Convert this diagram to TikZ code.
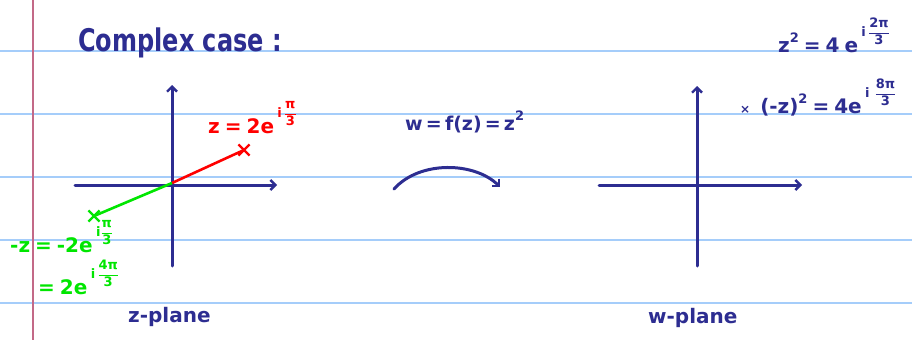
\documentclass[tikz,border=0pt]{standalone}
\usepackage{fontspec}
\setmainfont{DejaVu Sans}
\usepackage{amsmath}
\usetikzlibrary{arrows.meta,shapes.misc}
\definecolor{ink}{RGB}{45,45,145}
\definecolor{rulec}{RGB}{165,205,250}
\definecolor{marginc}{RGB}{195,105,135}
\definecolor{gpen}{RGB}{0,230,0}
\newcommand\myfr[2]{$\dfrac{\text{#1}}{\text{#2}}$}
\newcommand\myex[1]{\raisebox{16pt}{\fontsize{13}{13}\selectfont #1}}
\newcommand\mysq{\raisebox{10pt}{\fontsize{13}{13}\selectfont 2}}
\newcommand\gap{\hspace{5pt}}
\begin{document}
\begin{tikzpicture}[x=1pt,y=-1pt,
  ax/.style={ink,line width=3pt,line cap=round},
  arr/.style={-{Straight Barb[length=5pt,width=10pt,line width=2.4pt]}},
  lbl/.style={anchor=base west,inner sep=0pt,font=\fontsize{20}{24}\selectfont\bfseries},
  xmark/.style={cross out,draw,minimum size=9pt,line width=2.2pt,inner sep=0pt}]
\useasboundingbox (0,0) rectangle (912,340);
\fill[white] (0,0) rectangle (912,340);
\foreach \y in {51,114,177,240,303} \draw[rulec,line width=1.5pt] (0,\y) -- (912,\y);
\draw[marginc,line width=1.5pt] (33,0) -- (33,340);

% title
\node[lbl,ink,font=\fontsize{24}{28}\selectfont\bfseries] (title) at (78,51) {\scalebox{1}[1.3]{Complex case :}};

% z-plane
\coordinate (zo) at (172,183);
\coordinate (ztop) at (172,85);
\coordinate (zbot) at (172,266);
\coordinate (zl) at (75,185);
\coordinate (zr) at (277,185);
\draw[ax,arr] (zbot) -- (ztop);
\draw[ax,arr] (zl) -- (zr);
\node[xmark,red] (zp) at (244,150) {};
\node[xmark,gpen] (zm) at (94,216) {};
\draw[red,line width=2.6pt] (zo) -- (zp.center);
\draw[gpen,line width=2.6pt] (zo) -- (zm.center);
\node[lbl,red] (zlab) at (208,133) {z\gap=\gap2e\,\myex{i\,\myfr{π}{3}}};
\node[lbl,gpen] (mzlab) at (10,252) {-z\gap=\gap-2e\,\myex{i\myfr{π}{3}}};
\node[lbl,gpen] (mzlab2) at (38,294) {=\gap2e\,\myex{i\,\myfr{4π}{3}}};
\node[lbl,ink] (zpl) at (128,322) {z-plane};

% map
\node[lbl,ink,font=\fontsize{19}{22}\selectfont\bfseries] (map) at (405,130) {w\,=\,f(z)\,=\,z\mysq};
\coordinate (ma) at (394,189);
\coordinate (mb) at (500,187);
\draw[ax,arr] (ma) .. controls (420,160) and (475,162) .. (mb);

% w-plane
\coordinate (wtop) at (697,86);
\coordinate (wbot) at (697,266);
\coordinate (wl) at (599,185);
\coordinate (wr) at (802,185);
\draw[ax,arr] (wbot) -- (wtop);
\draw[ax,arr] (wl) -- (wr);
\node[lbl,ink] (wpl) at (648,323) {w-plane};

\node[lbl,ink] (z2) at (778,52) {z\mysq\gap=\gap4\gap e\,\myex{i\,\myfr{2π}{3}}};
\node[lbl,ink] (mz2) at (740,113) {{\fontsize{12}{12}\selectfont ×}\gap\gap(-z)\mysq\gap=\gap4e\,\myex{i\gap\myfr{8π}{3}}};
\end{tikzpicture}
\end{document}
